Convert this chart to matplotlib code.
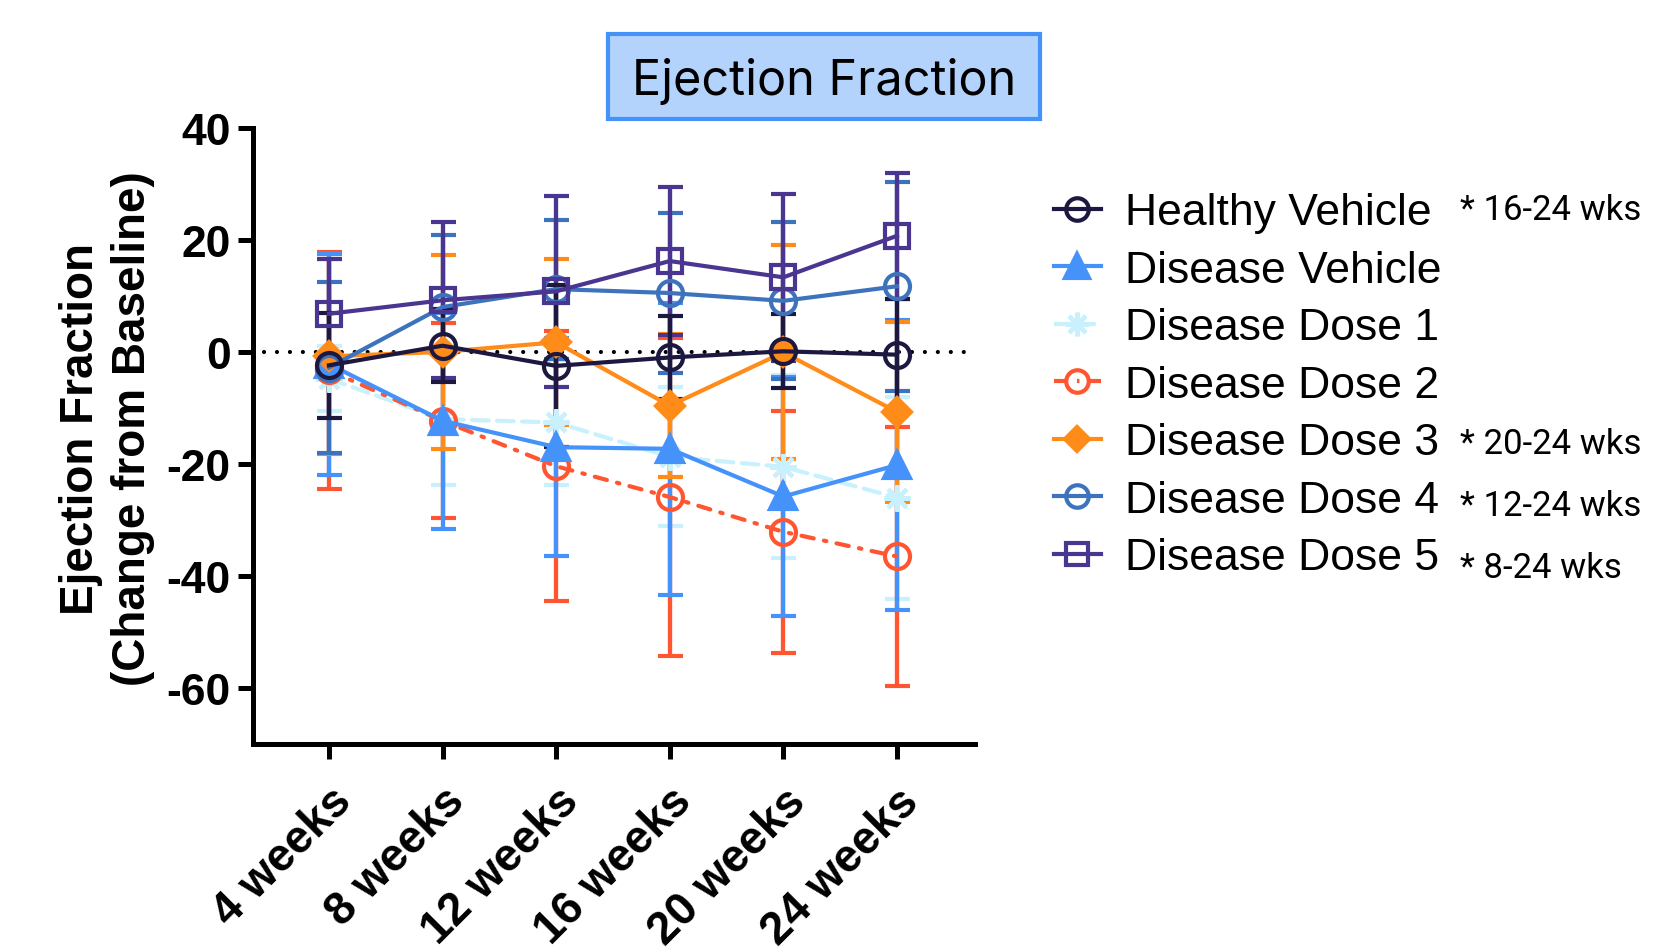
import matplotlib
matplotlib.use("Agg")
import matplotlib.pyplot as plt
from matplotlib.lines import Line2D
from matplotlib.patches import Rectangle

plt.rcParams['axes.unicode_minus'] = False

weeks = ['4 weeks', '8 weeks', '12 weeks', '16 weeks', '20 weeks', '24 weeks']

healthy_mean = [-2.4, 1.1, -2.5, -1.0, 0.1, -0.5]
healthy_err = [9.4, 6.5, 14.4, 7.4, 6.6, 10.0]
vehicle_mean = [-2.2, -12.3, -17.0, -17.3, -25.8, -20.2]
vehicle_err = [19.7, 19.3, 19.5, 26.0, 21.3, 25.8]
dose1_mean = [-4.8, -12.0, -12.6, -18.7, -20.5, -26.0]
dose1_err = [5.8, 11.7, 11.1, 12.4, 16.3, 18.0]
dose2_mean = [-3.3, -12.3, -20.4, -25.9, -32.1, -36.5]
dose2_err = [21.2, 17.4, 24.1, 28.3, 21.6, 23.1]
dose3_mean = [-0.8, 0.0, 1.7, -9.6, -0.1, -10.7]
dose3_err = [17.4, 17.3, 14.8, 12.8, 19.1, 16.0]
dose4_mean = [-2.8, 8.0, 11.2, 10.5, 9.1, 11.7]
dose4_err = [15.3, 12.8, 12.4, 14.3, 14.0, 18.6]
dose5_mean = [6.8, 9.2, 10.8, 16.2, 13.3, 20.7]
dose5_err = [9.8, 13.9, 17.0, 13.2, 14.9, 11.2]

labels = ['Healthy Vehicle', 'Disease Vehicle', 'Disease Dose 1', 'Disease Dose 2',
          'Disease Dose 3', 'Disease Dose 4', 'Disease Dose 5']
notes = ['* 16-24 wks', '', '', '', '* 20-24 wks', '* 12-24 wks', '* 8-24 wks']

c_healthy = '#1d1840'
c_vehicle = '#4592fb'
c_dose1 = '#c9f1fd'
c_dose2 = '#ff5631'
c_dose3 = '#ff8b19'
c_dose4 = '#3d73bd'
c_dose5 = '#4a3590'

ARIAL = 'Liberation Sans'

fig = plt.figure(figsize=(16.53, 9.53), dpi=100)
ax = fig.add_axes([0.153, 0.218, 0.437, 0.647])

x = list(range(len(weeks)))

# (mean, err, color, marker, filled, linestyle, markersize)
series = [
    (dose1_mean, dose1_err, c_dose1, (8, 2, 0), True, (0, (4, 2)), 19),
    (dose2_mean, dose2_err, c_dose2, 'o', False, (0, (3, 2.5, 0.6, 2.5)), 18),
    (vehicle_mean, vehicle_err, c_vehicle, '^', True, '-', 19),
    (dose3_mean, dose3_err, c_dose3, 'D', True, '-', 14),
    (dose4_mean, dose4_err, c_dose4, 'o', False, '-', 18),
    (dose5_mean, dose5_err, c_dose5, 's', False, '-', 17),
    (healthy_mean, healthy_err, c_healthy, 'o', False, '-', 18),
]

handles = {}
for mean, err, col, mk, filled, ls, ms in series:
    eb = ax.errorbar(x, mean, yerr=err, color=col, ecolor=col, elinewidth=3.1,
                     capsize=9, capthick=3.1, marker=mk, markersize=ms,
                     markerfacecolor=col if filled else 'none',
                     markeredgecolor=col, markeredgewidth=3.0,
                     linestyle=ls, linewidth=3.0)
    eb[0].set_dash_capstyle('round')
    handles[col] = Line2D([], [], color=col, marker=mk, markersize=ms * 0.9,
                          markerfacecolor=col if filled else 'none',
                          markeredgecolor=col, markeredgewidth=3.0,
                          linestyle=ls, linewidth=3.0)

ax.axhline(0, xmin=0.015, xmax=0.985, color='black', linewidth=3.0,
           linestyle=(0, (0.01, 3.1)), dash_capstyle='round', zorder=0.5)

ax.set_xlim(-0.67, 5.69)
ax.set_ylim(-70, 40)
ax.set_yticks([40, 20, 0, -20, -40, -60])
ax.set_xticks(x)
ax.set_xticklabels(weeks, rotation=45, ha='right', va='top', rotation_mode='anchor',
                   fontsize=33, fontweight='bold', family=ARIAL)
for t in ax.get_yticklabels():
    t.set_fontsize(32)
    t.set_fontweight('bold')
    t.set_family(ARIAL)

for s in ['top', 'right']:
    ax.spines[s].set_visible(False)
for s in ['left', 'bottom']:
    ax.spines[s].set_linewidth(3.6)
ax.tick_params(axis='both', length=11, width=3.6, pad=5)
ax.tick_params(axis='x', pad=14)

ax.set_ylabel('Ejection Fraction\n(Change from Baseline)', fontsize=33,
              fontweight='bold', family=ARIAL, linespacing=1.25)
ax.yaxis.set_label_coords(-0.135, 0.513)

# title box
fig.patches.append(Rectangle((0.368, 0.874), 0.2613, 0.0892, transform=fig.transFigure,
                             facecolor='#b3d3fd', edgecolor=c_vehicle, linewidth=3))
fig.text(0.4985, 0.914, 'Ejection Fraction', ha='center', va='center',
         fontsize=35, family='Inter')

order = [c_healthy, c_vehicle, c_dose1, c_dose2, c_dose3, c_dose4, c_dose5]
leg = fig.legend([handles[c] for c in order], labels, loc='upper left',
                 bbox_to_anchor=(0.6376, 0.797), frameon=False, borderpad=0,
                 borderaxespad=0, handlelength=1.05, handletextpad=0.55,
                 labelspacing=0.37, prop={'family': ARIAL, 'size': 32})

note_y = [211, 269, 329, 385, 445, 506, 569]
for n, yy in zip(notes, note_y):
    if n:
        fig.text(0.883, 1 - yy / 953, n, ha='left', va='center', fontsize=25, family='Roboto')

fig.savefig('out.png', dpi=100)
